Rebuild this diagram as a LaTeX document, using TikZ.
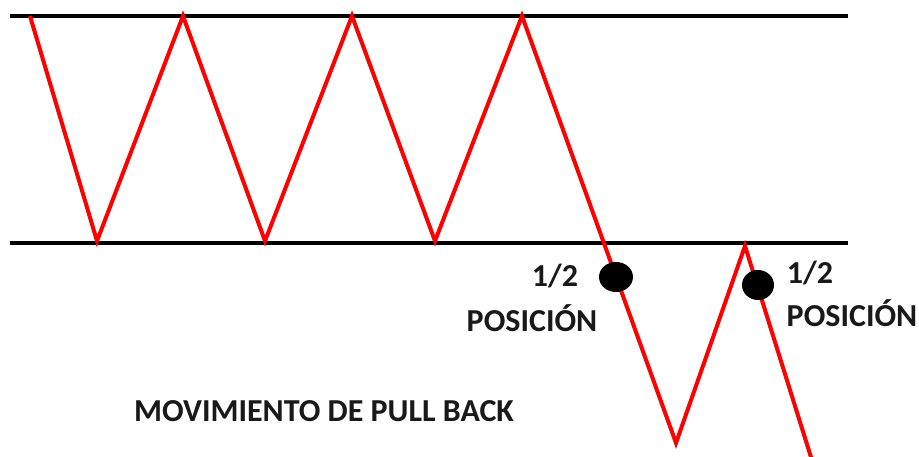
\documentclass[tikz,border=0pt]{standalone}
\usepackage{fontspec}
\setmainfont{Carlito}
\usetikzlibrary{shapes.geometric}
\begin{document}
\begin{tikzpicture}[x=1pt,y=-1pt,
  level/.style={line width=4.5pt,black},
  zig/.style={line width=4pt,red,line join=miter},
  dot/.style={ellipse,fill=black,inner sep=0pt},
  lbl/.style={font=\bfseries\fontsize{32}{36}\selectfont,text=black!90,inner sep=0pt,align=center}]
\useasboundingbox (0,0) rectangle (919,457);
\coordinate (t1) at (10,16); \coordinate (t2) at (848,16);
\coordinate (b1) at (10,243); \coordinate (b2) at (848,243);
\draw[level] (t1) -- (t2);
\draw[level] (b1) -- (b2);
\coordinate (p0) at (30,16);
\coordinate (p1) at (97,241);
\coordinate (p2) at (183,16);
\coordinate (p3) at (265,241);
\coordinate (p4) at (352,16);
\coordinate (p5) at (435,241);
\coordinate (p6) at (522,16);
\coordinate (p7) at (676,443);
\coordinate (p8) at (745,246);
\coordinate (p9) at (815,470);
\draw[zig] (p0) -- (p1) -- (p2) -- (p3) -- (p4) -- (p5) -- (p6) -- (p7) -- (p8) -- (p9);
\node[dot,minimum width=34pt,minimum height=30pt] (d1) at (616,277) {};
\node[dot,minimum width=32pt,minimum height=30pt] (d2) at (758,285) {};
\node[lbl] (h1) at (555,276) {1/2};
\node[lbl] (q1) at (532,318) {POSICIÓN};
\node[lbl] (h2) at (810,273) {1/2};
\node[lbl] (q2) at (852,313) {POSICIÓN};
\node[lbl] (m) at (324,411) {MOVIMIENTO DE PULL BACK};
\end{tikzpicture}
\end{document}
